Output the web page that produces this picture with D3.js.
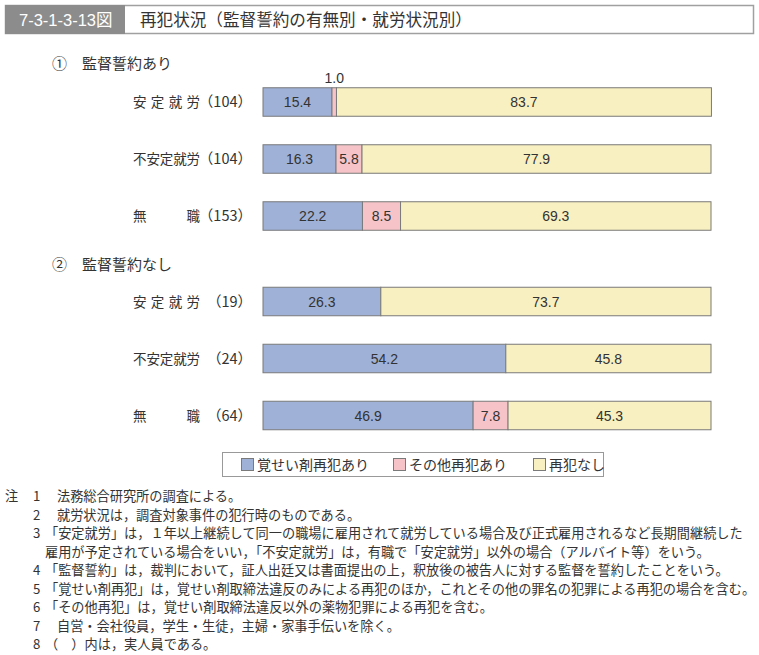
<!DOCTYPE html>
<html>
<head>
<meta charset="utf-8">
<script src="https://cdn.jsdelivr.net/npm/d3@7"></script>
<style>
  body { margin: 0; background: #fff; }
  svg { display: block; font-family: "Noto Sans CJK JP", "Noto Sans", sans-serif; }
</style>
</head>
<body>
<div id="chart"></div>
<script>
const categories = ['安定就労', '不安定就労', '無職'];
const seriesNames = ['覚せい剤再犯あり', 'その他再犯あり', '再犯なし'];
const sectionTitles = ['監督誓約あり', '監督誓約なし'];
const sectionMarks = ['①', '②'];

const counts1 = [104, 104, 153];
const stimulant1 = [15.4, 16.3, 22.2];
const otherCrime1 = [1.0, 5.8, 8.5];
const noCrime1 = [83.7, 77.9, 69.3];

const counts2 = [19, 24, 64];
const stimulant2 = [26.3, 54.2, 46.9];
const otherCrime2 = [0, 0, 7.8];
const noCrime2 = [73.7, 45.8, 45.3];

const notes = [
  ['注', '1', '法務総合研究所の調査による。'],
  ['', '2', '就労状況は，調査対象事件の犯行時のものである。'],
  ['', '3', '「安定就労」は，１年以上継続して同一の職場に雇用されて就労している場合及び正式雇用されるなど長期間継続した'],
  ['', '', '雇用が予定されている場合をいい，「不安定就労」は，有職で「安定就労」以外の場合（アルバイト等）をいう。'],
  ['', '4', '「監督誓約」は，裁判において，証人出廷又は書面提出の上，釈放後の被告人に対する監督を誓約したことをいう。'],
  ['', '5', '「覚せい剤再犯」は，覚せい剤取締法違反のみによる再犯のほか，これとその他の罪名の犯罪による再犯の場合を含む。'],
  ['', '6', '「その他再犯」は，覚せい剤取締法違反以外の薬物犯罪による再犯を含む。'],
  ['', '7', '自営・会社役員，学生・生徒，主婦・家事手伝いを除く。'],
  ['', '8', '（　）内は，実人員である。']
];

const colors = ['#9fb1d7', '#f6c4c8', '#f8f0c0'];
const width = 759, height = 655;

const svg = d3.select('#chart').append('svg').attr('width', width).attr('height', height);

// header
svg.append('rect').attr('x', 5.5).attr('y', 5.5).attr('width', 748).attr('height', 28)
  .attr('fill', '#fff').attr('stroke', '#a0a0a0').attr('stroke-width', 1.5);
svg.append('rect').attr('x', 5).attr('y', 5).attr('width', 120).attr('height', 29).attr('fill', '#8c8c8c');
svg.append('text').attr('x', 19).attr('y', 25.5).attr('fill', '#fff').attr('font-size', 16.5)
  .attr('font-family', '"Liberation Sans", "Noto Sans CJK JP", sans-serif').text('7-3-1-3-13図');
svg.append('text').attr('x', 140).attr('y', 25.5).attr('fill', '#333').attr('font-size', 16.6)
  .text('再犯状況（監督誓約の有無別・就労状況別）');

const x = d3.scaleLinear().domain([0, 100]).range([263, 711]);

const sections = [
  { counts: counts1, values: [stimulant1, otherCrime1, noCrime1], top: 73.5, titleY: 69 },
  { counts: counts2, values: [stimulant2, otherCrime2, noCrime2], top: 273, titleY: 270 }
];

const stack = d3.stack().keys([0, 1, 2]);

sections.forEach((sec, si) => {
  const y = d3.scaleBand().domain(categories).range([sec.top, sec.top + 57 * 3])
    .paddingInner(0.5).paddingOuter(0.25);

  const g = svg.append('g');

  g.append('text').attr('x', 52).attr('y', sec.titleY).attr('font-size', 15).attr('fill', '#333')
    .text(sectionMarks[si]);
  g.append('text').attr('x', 82).attr('y', sec.titleY).attr('font-size', 15).attr('fill', '#333')
    .text(sectionTitles[si]);

  const rows = categories.map((c, i) => ({ cat: c, 0: sec.values[0][i], 1: sec.values[1][i], 2: sec.values[2][i] }));
  const layers = stack(rows);

  // category labels
  g.selectAll('.cat').data(categories).join('text')
    .attr('x', 133).attr('y', d => y(d) + y.bandwidth() / 2 + 5)
    .attr('font-size', 13.5).attr('fill', '#333')
    .attr('textLength', 67).attr('lengthAdjust', 'spacing')
    .text(d => d);
  g.selectAll('.cnt').data(sec.counts).join('text')
    .attr('x', 252).attr('y', (d, i) => y(categories[i]) + y.bandwidth() / 2 + 5)
    .attr('text-anchor', 'end').attr('font-size', 14.5).attr('fill', '#333')
    .text(d => '（' + d + '）');

  layers.forEach((layer, k) => {
    g.selectAll('.seg' + k).data(layer.filter(d => d[1] - d[0] > 0)).join('rect')
      .attr('x', d => x(d[0])).attr('y', d => y(d.data.cat))
      .attr('width', d => x(d[1]) - x(d[0])).attr('height', y.bandwidth())
      .attr('fill', colors[k]).attr('stroke', '#7a7a7a').attr('stroke-width', 1);
  });

  layers.forEach((layer, k) => {
    g.selectAll('.lbl' + k).data(layer.filter(d => d[1] - d[0] > 0)).join('text')
      .attr('x', d => x((d[0] + d[1]) / 2))
      .attr('y', d => (d[1] - d[0]) < 3 ? y(d.data.cat) - 5 : y(d.data.cat) + y.bandwidth() / 2 + 5)
      .attr('text-anchor', 'middle').attr('font-size', 14).attr('fill', '#333')
      .attr('font-family', '"Liberation Sans", Arial, sans-serif')
      .text(d => (d[1] - d[0]).toFixed(1));
  });
});

// legend
const legend = svg.append('g');
legend.append('rect').attr('x', 222.5).attr('y', 452.5).attr('width', 381).attr('height', 24)
  .attr('fill', '#fff').attr('stroke', '#999');
const legendX = [241, 393, 533];
seriesNames.forEach((name, i) => {
  legend.append('rect').attr('x', legendX[i] + 0.5).attr('y', 458.5).attr('width', 12).attr('height', 12)
    .attr('fill', colors[i]).attr('stroke', '#7a7a7a');
  legend.append('text').attr('x', legendX[i] + 16).attr('y', 470).attr('font-size', 14).attr('fill', '#333')
    .text(name);
});

// notes
const notesG = svg.append('g').attr('font-size', 13.2).attr('fill', '#333');
notes.forEach((n, i) => {
  const ny = 501 + i * 18.5;
  notesG.append('text').attr('x', 5).attr('y', ny).text(n[0]);
  notesG.append('text').attr('x', 33).attr('y', ny).text(n[1]);
  const startX = n[2].startsWith('「') || n[2].startsWith('（') || n[1] === '' ? 45 : 57;
  notesG.append('text').attr('x', startX).attr('y', ny).text(n[2]);
});
</script>
</body>
</html>
